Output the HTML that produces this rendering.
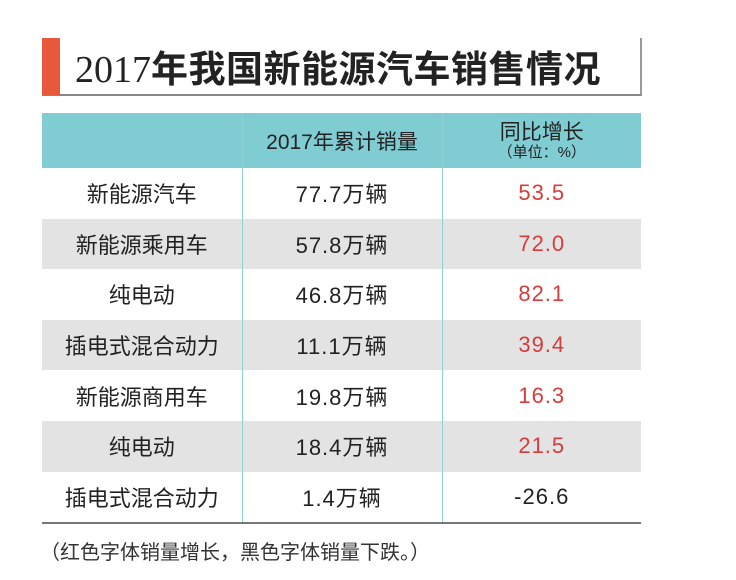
<!DOCTYPE html>
<html><head><meta charset="utf-8">
<style>
body{margin:0;background:#fff;width:736px;height:580px;position:relative;overflow:hidden;font-family:"Liberation Sans","Noto Sans CJK SC",sans-serif;color:#222}
.abs{position:absolute}
#title-box{left:42px;top:38px;width:598px;height:56px;border-right:2px solid #999;border-bottom:2px solid #888}
#accent{left:42px;top:38px;width:18px;height:57px;background:#e8583a}
#title{left:75px;top:37px;height:58px;line-height:58px;font-size:37px;font-weight:bold;font-family:"Noto Sans CJK SC",sans-serif;white-space:nowrap;letter-spacing:0.5px}
#title .yr{font-family:"Liberation Serif",serif;font-weight:normal;font-size:38px;letter-spacing:0}
table{position:absolute;left:42px;top:113px;width:599px;border-collapse:collapse;table-layout:fixed}
td{height:50.6px;text-align:center;font-size:22px;padding:0;font-family:"Liberation Sans","Noto Sans CJK SC",sans-serif}
td.num{letter-spacing:1px}
td+td{border-left:1px solid #8fd0d3}
tr.head td{background:#7fcdd2;height:55px;font-size:21px}
tr.g td{background:#e3e3e3}
tr.last td{border-bottom:2px solid #777}
.red{color:#d63c3c}
.sub{font-size:15px;display:block;line-height:17px}
#note{left:40px;top:536px;font-size:20px;color:#333;white-space:nowrap}
</style></head><body>
<div class="abs" id="title-box"></div>
<div class="abs" id="accent"></div>
<div class="abs" id="title"><span class="yr">2017</span>年我国新能源汽车销售情况</div>
<table>
<colgroup><col style="width:200px"><col style="width:200px"><col style="width:199px"></colgroup>
<tr class="head"><td></td><td>2017年累计销量</td><td style="line-height:23px">同比增长<span class="sub">（单位：%）</span></td></tr>
<tr><td>新能源汽车</td><td class="num">77.7万辆</td><td class="num red">53.5</td></tr>
<tr class="g"><td>新能源乘用车</td><td class="num">57.8万辆</td><td class="num red">72.0</td></tr>
<tr><td>纯电动</td><td class="num">46.8万辆</td><td class="num red">82.1</td></tr>
<tr class="g"><td>插电式混合动力</td><td class="num">11.1万辆</td><td class="num red">39.4</td></tr>
<tr><td>新能源商用车</td><td class="num">19.8万辆</td><td class="num red">16.3</td></tr>
<tr class="g"><td>纯电动</td><td class="num">18.4万辆</td><td class="num red">21.5</td></tr>
<tr class="last"><td>插电式混合动力</td><td class="num">1.4万辆</td><td class="num">-26.6</td></tr>
</table>
<div class="abs" id="note">（红色字体销量增长，黑色字体销量下跌。）</div>
</body></html>
